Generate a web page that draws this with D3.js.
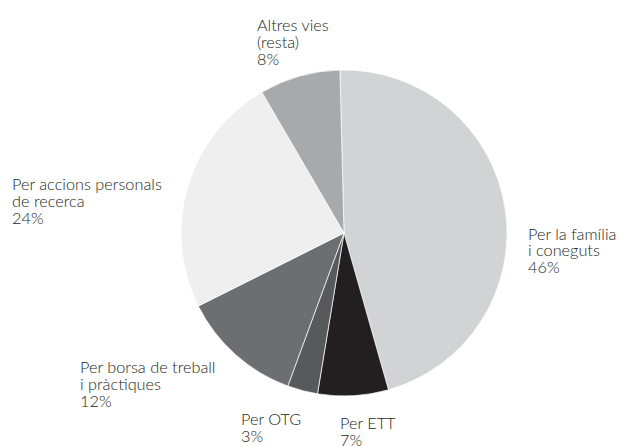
<!DOCTYPE html>
<html>
<head>
<meta charset="utf-8">
<script src="https://cdn.jsdelivr.net/npm/d3@7"></script>
<style>
  html, body { margin: 0; padding: 0; background: #fff; }
  svg text { font-family: "Lato", "Open Sans", sans-serif; font-weight: 300; fill: #231f20; }
</style>
</head>
<body>
<svg id="chart" width="618" height="446"></svg>
<script>
// Slices in clockwise order from the top
const categories = [
  "Per la família i coneguts",
  "Per ETT",
  "Per OTG",
  "Per borsa de treball i pràctiques",
  "Per accions personals de recerca",
  "Altres vies (resta)"
];
const values = [46, 7, 3, 12, 24, 8];
const labelLines = [
  ["Per la família", "i coneguts", "46%"],
  ["Per ETT", "7%"],
  ["Per OTG", "3%"],
  ["Per borsa de treball", "i pràctiques", "12%"],
  ["Per accions personals", "de recerca", "24%"],
  ["Altres vies", "(resta)", "8%"]
];
const colors = ["#d1d3d4", "#231f20", "#58595b", "#6d6e71", "#efeff0", "#a7a9ac"];

const svg = d3.select("#chart");
const cx = 344, cy = 233, r = 163;
const startOffset = -0.025;

const pie = d3.pie().sort(null).value(d => d)
  .startAngle(startOffset).endAngle(startOffset + 2 * Math.PI);
const arc = d3.arc().innerRadius(0).outerRadius(r);

const g = svg.append("g").attr("transform", `translate(${cx},${cy})`);
g.selectAll("path")
  .data(pie(values))
  .join("path")
  .attr("d", arc)
  .attr("fill", (d, i) => colors[i])
  .attr("stroke", "#fff")
  .attr("stroke-width", 0.7);

// Label anchors: left x and first baseline
const labelPos = [
  [528, 239.5],
  [340, 429],
  [241, 425],
  [80, 373],
  [12, 190],
  [257, 31]
];
const lineH = 16.8;

svg.selectAll("text.lbl")
  .data(labelLines)
  .join("text")
  .attr("class", "lbl")
  .attr("x", (d, i) => labelPos[i][0])
  .attr("y", (d, i) => labelPos[i][1])
  .attr("font-size", 16.3)
  .each(function(lines, i) {
    d3.select(this).selectAll("tspan")
      .data(lines)
      .join("tspan")
      .attr("x", labelPos[i][0])
      .attr("dy", (l, j) => j === 0 ? 0 : lineH)
      .text(l => l);
  });
</script>
</body>
</html>
